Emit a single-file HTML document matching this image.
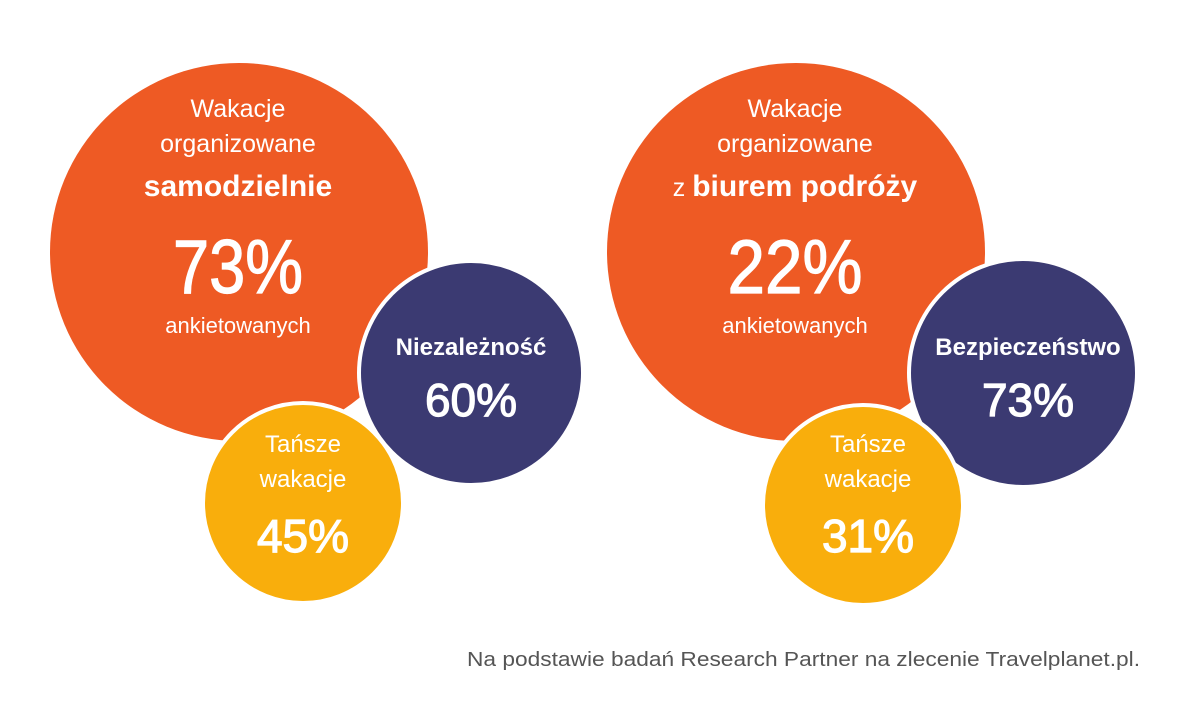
<!DOCTYPE html>
<html><head><meta charset="utf-8"><style>
html,body{margin:0;padding:0;background:#fff;}
svg{display:block;}
text{font-family:"Liberation Sans",sans-serif;fill:#fff;text-anchor:middle;}
.p{stroke:#fff;stroke-width:1.2px;}
</style></head><body>
<svg width="1200" height="723" viewBox="0 0 1200 723">
<rect width="1200" height="723" fill="#fff"/>
<circle cx="239" cy="252" r="189" fill="#EE5A24"/>
<circle cx="471" cy="373" r="112" fill="#3B3A72" stroke="#fff" stroke-width="4"/>
<circle cx="303" cy="503" r="100" fill="#F9AE0C" stroke="#fff" stroke-width="4"/>
<text x="238" y="117" font-size="25">Wakacje</text>
<text x="238" y="152" font-size="25">organizowane</text>
<text x="238" y="196" font-size="30" font-weight="bold">samodzielnie</text>
<text class="p" x="238" y="293" font-size="76" textLength="130" lengthAdjust="spacingAndGlyphs">73%</text>
<text x="238" y="333" font-size="22">ankietowanych</text>
<text x="471" y="355" font-size="24" font-weight="bold">Niezależność</text>
<text class="p" x="471" y="416" font-size="46">60%</text>
<text x="303" y="452" font-size="24">Tańsze</text>
<text x="303" y="487" font-size="24">wakacje</text>
<text class="p" x="303" y="552" font-size="46">45%</text>
<circle cx="796" cy="252" r="189" fill="#EE5A24"/>
<circle cx="1023" cy="373" r="114" fill="#3B3A72" stroke="#fff" stroke-width="4"/>
<circle cx="863" cy="505" r="100" fill="#F9AE0C" stroke="#fff" stroke-width="4"/>
<text x="795" y="117" font-size="25">Wakacje</text>
<text x="795" y="152" font-size="25">organizowane</text>
<text x="795" y="196" font-size="30"><tspan font-size="25">z </tspan><tspan font-weight="bold">biurem podróży</tspan></text>
<text class="p" x="795" y="293" font-size="76" textLength="135" lengthAdjust="spacingAndGlyphs">22%</text>
<text x="795" y="333" font-size="22">ankietowanych</text>
<text x="1028" y="355" font-size="24" font-weight="bold">Bezpieczeństwo</text>
<text class="p" x="1028" y="416" font-size="46">73%</text>
<text x="868" y="452" font-size="24">Tańsze</text>
<text x="868" y="487" font-size="24">wakacje</text>
<text class="p" x="868" y="552" font-size="46">31%</text>
<text x="467" y="666" font-size="20" style="fill:#555;text-anchor:start" textLength="673" lengthAdjust="spacingAndGlyphs">Na podstawie badań Research Partner na zlecenie Travelplanet.pl.</text>
</svg>
</body></html>
